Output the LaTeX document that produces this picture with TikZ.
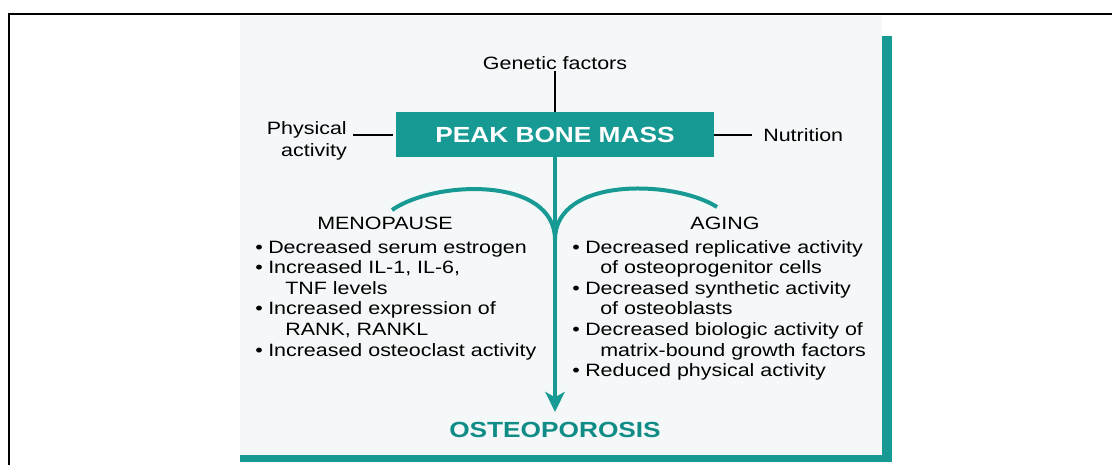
\documentclass[tikz,border=0pt]{standalone}
\usepackage{fontspec}
\setmainfont{Liberation Sans}[FakeStretch=1.2]
\usetikzlibrary{arrows.meta}
\definecolor{tealc}{RGB}{24,154,148}
\definecolor{tealt}{RGB}{16,140,134}
\definecolor{bgc}{RGB}{244,248,248}
\newcommand\bul{\makebox[0pt][r]{\textbullet\hspace{4pt}}}
\begin{document}
\begin{tikzpicture}[x=0.75pt,y=-0.75pt,
  txt/.style={inner sep=0pt, font=\fontsize{13.4}{15.5}\selectfont, anchor=base west},
  head/.style={inner sep=0pt, font=\fontsize{13.4}{15.5}\selectfont, anchor=base},
  blk/.style={line width=1.5pt, draw=black},
  tarc/.style={line width=3pt, draw=tealc}]
\useasboundingbox (0,0) rectangle (1112,465);
\fill[white] (0,0) rectangle (1112,465);
\fill[bgc] (240,16) rectangle (882,455);
\draw[line width=1.6pt] (9,465) -- (9,14) -- (1112,14);
\fill[tealc] (882,36) rectangle (892,462);
\fill[tealc] (240,455) rectangle (892,462);

% main box
\node[fill=tealc, minimum width=238.5pt, minimum height=33.75pt, inner sep=0pt,
      text=white, font=\fontsize{16.4}{18}\selectfont\bfseries] (peak) at (555,134.5) {PEAK BONE MASS};

% top factors
\node[head] (gen) at (555,69) {Genetic factors};
\node[inner sep=0pt, anchor=base east, font=\fontsize{13.4}{15.5}\selectfont] (phys1) at (347,134) {Physical};
\node[inner sep=0pt, anchor=base east, font=\fontsize{13.4}{15.5}\selectfont] (phys2) at (347,156) {activity};
\node[txt] (nut) at (763,141) {Nutrition};

\draw[blk] ([yshift=-1.5pt]gen.south) -- (peak.north);
\draw[blk] ([xshift=-2pt]peak.west) -- ([xshift=4.5pt]peak.west -| phys1.east);
\draw[blk] (peak.east) -- ([xshift=-8pt]peak.east -| nut.west);

% outcome
\node[inner sep=0pt, anchor=base, text=tealt, font=\fontsize{16.4}{18}\selectfont\bfseries] (osteo) at (555,437.5) {OSTEOPOROSIS};

% arcs and arrow
\coordinate (lend) at (392,210);
\coordinate (rend) at (717,207);
\coordinate (join) at (555,240);
\draw[tarc] (lend) .. controls (435,180) and (555,176) .. (join);
\draw[tarc] (rend) .. controls (675,180) and (555,176) .. (join);
\draw[line width=3.6pt, draw=tealc, -{Stealth[length=15pt,width=14.5pt,inset=4pt]}]
  (peak.south) -- ([yshift=7.5pt]osteo.north);

% menopause
\node[head] (meno) at (385,229) {MENOPAUSE};
\node[txt] (m1) at (268,253) {\bul Decreased serum estrogen};
\node[txt] (m2) at (268,273.6) {\bul Increased IL-1, IL-6,};
\node[txt] (m3) at (285,294.2) {TNF levels};
\node[txt] (m4) at (268,314.8) {\bul Increased expression of};
\node[txt] (m5) at (285,335.4) {RANK, RANKL};
\node[txt] (m6) at (268,356) {\bul Increased osteoclast activity};

% aging
\node[head] (aging) at (725,229) {AGING};
\node[txt] (a1) at (585,253) {\bul Decreased replicative activity};
\node[txt] (a2) at (600,273.6) {of osteoprogenitor cells};
\node[txt] (a3) at (585,294.2) {\bul Decreased synthetic activity};
\node[txt] (a4) at (600,314.8) {of osteoblasts};
\node[txt] (a5) at (585,335.4) {\bul Decreased biologic activity of};
\node[txt] (a6) at (600,356) {matrix-bound growth factors};
\node[txt] (a7) at (585,376.6) {\bul Reduced physical activity};
\end{tikzpicture}
\end{document}
